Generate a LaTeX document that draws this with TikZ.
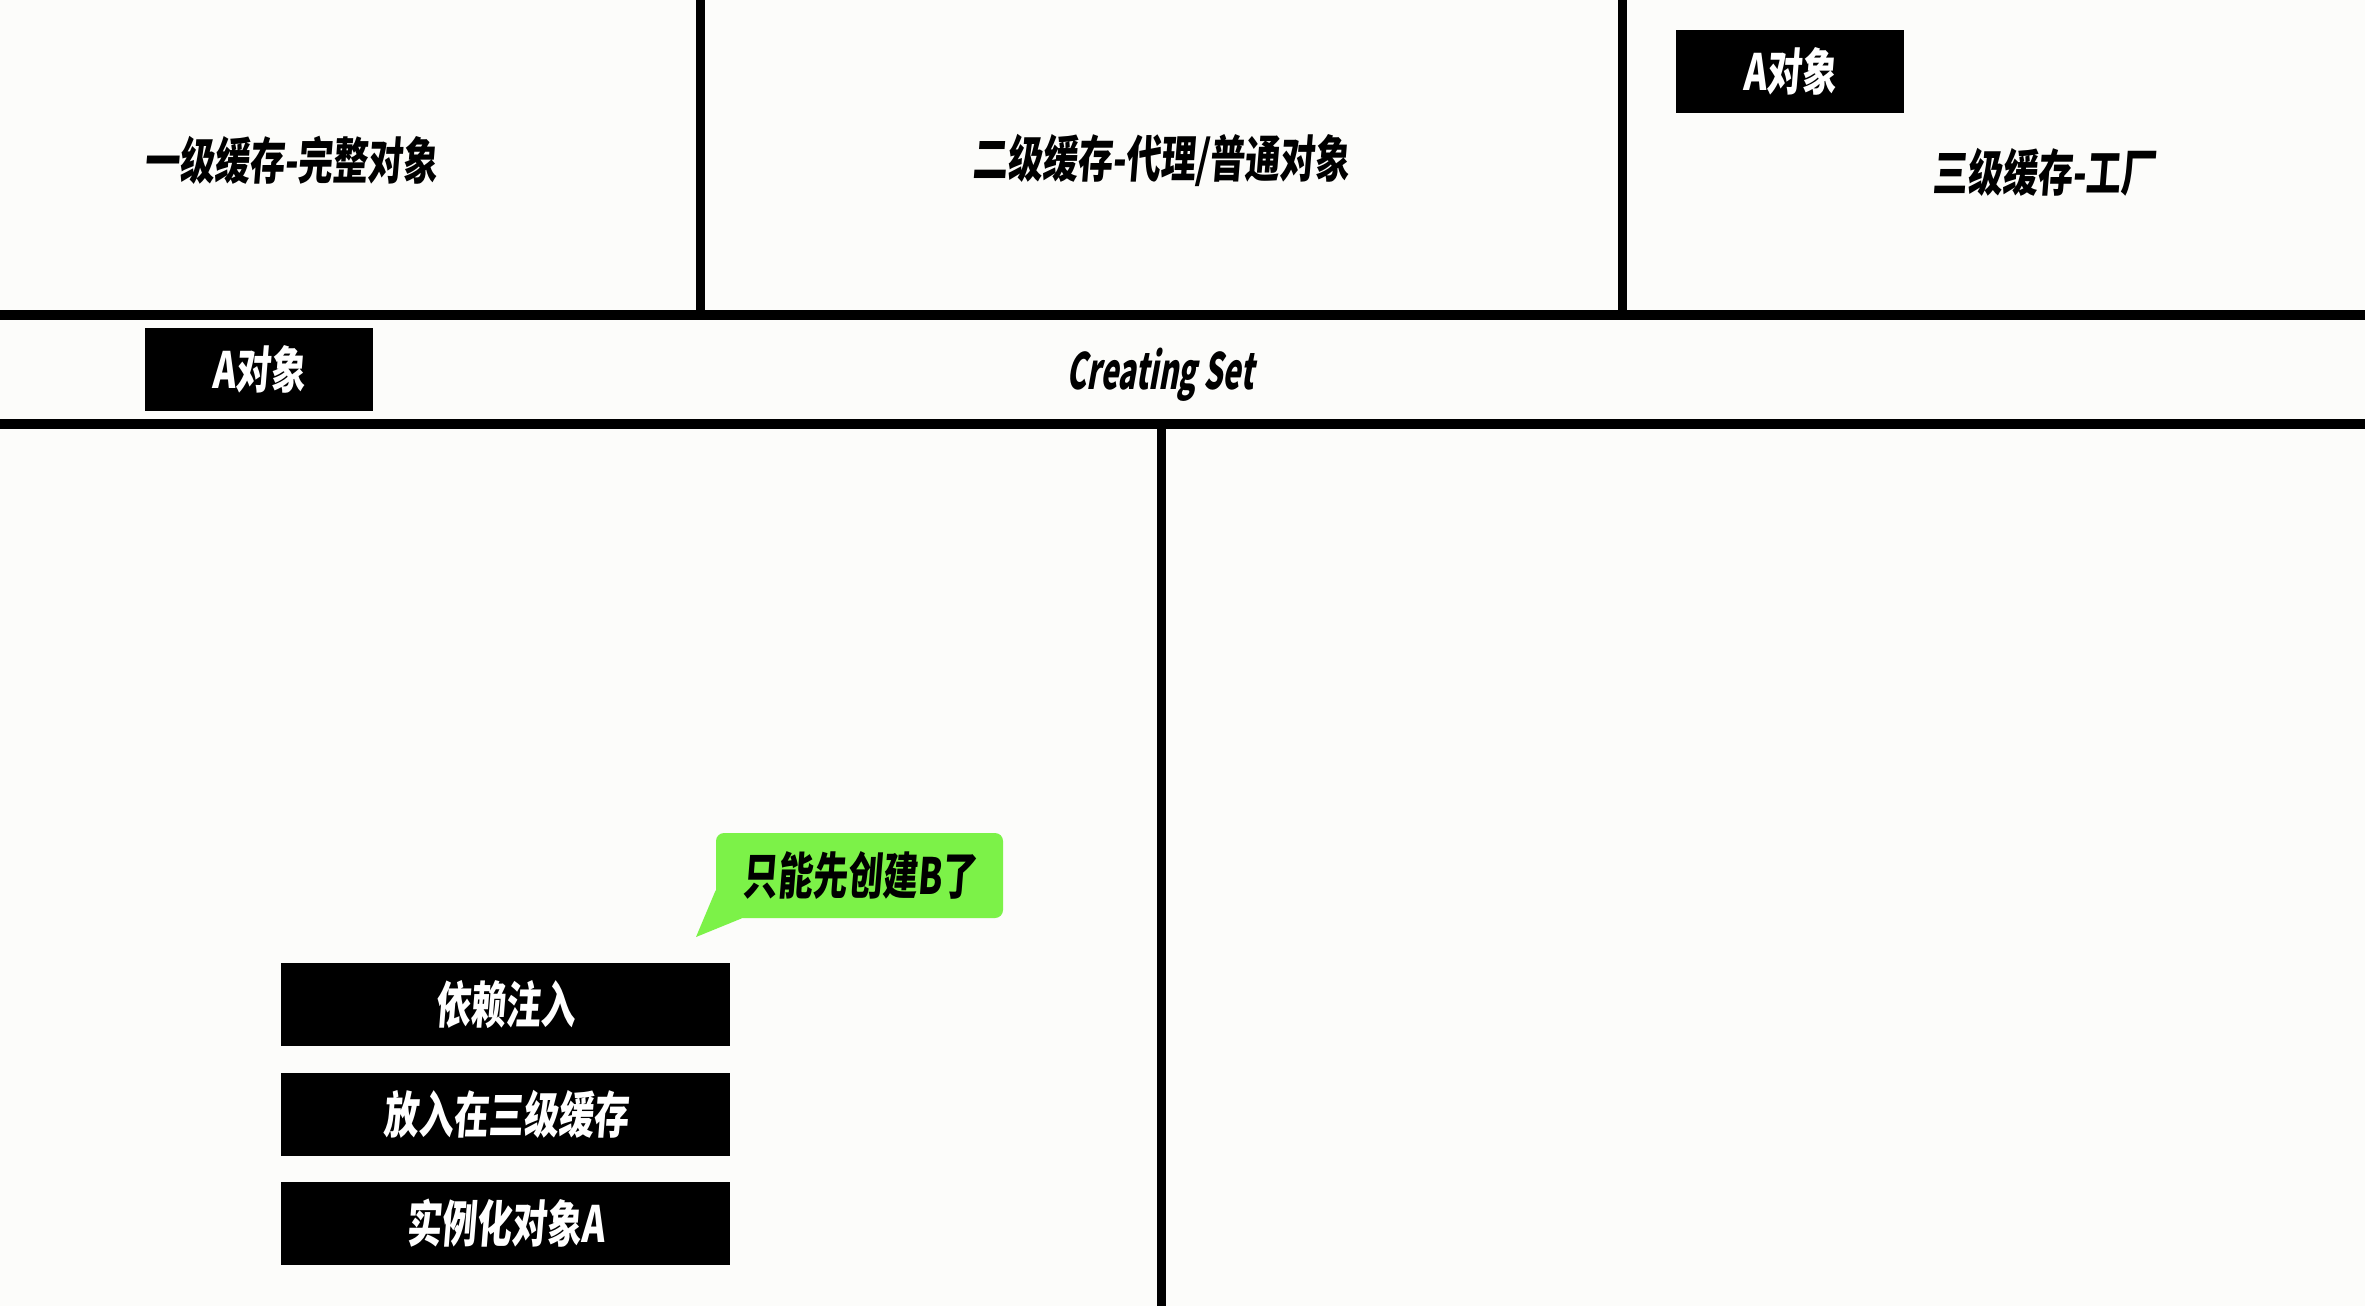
\documentclass[tikz,border=0pt]{standalone}
\usepackage{fontspec}
\newfontfamily\cjk[FakeStretch=0.7,FakeSlant=0.08]{Noto Sans CJK SC}
\newfontfamily\latn[FakeStretch=0.6,FakeSlant=0.18]{Noto Sans CJK SC}
\definecolor{bg}{RGB}{252,252,250}
\definecolor{bubblegreen}{RGB}{124,242,72}
\tikzset{
  sep/.style={line width=5pt, draw=black},
  vsep/.style={line width=4.5pt, draw=black},
  lbl/.style={font=\cjk\bfseries\fontsize{25}{27}\selectfont, text=black, inner sep=0pt},
  blackbox/.style={fill=black, text=white, font=\cjk\bfseries\fontsize{25}{27}\selectfont, inner sep=0pt, minimum height=41.5pt},
  smallbox/.style={blackbox, minimum width=114pt},
  widebox/.style={blackbox, minimum width=224.5pt},
  bubble/.style={fill=bubblegreen, rounded corners=4pt, font=\cjk\bfseries\fontsize{25}{27}\selectfont, text=black, inner sep=0pt, minimum width=143.5pt, minimum height=42.5pt}
}
\begin{document}
\begin{tikzpicture}[x=0.5pt,y=-0.5pt]
\fill[bg] (0,0) rectangle (2365,1306);
\useasboundingbox (0,0) rectangle (2365,1306);
% separators
\coordinate (h1l) at (0,315); \coordinate (h1r) at (2365,315);
\coordinate (h2l) at (0,424); \coordinate (h2r) at (2365,424);
\coordinate (v1t) at (700,0); \coordinate (v1b) at (700,315);
\coordinate (v2t) at (1622,0); \coordinate (v2b) at (1622,315);
\coordinate (v3t) at (1161,424); \coordinate (v3b) at (1161,1306);
\draw[vsep] (v1t) -- (v1b);
\draw[vsep] (v2t) -- (v2b);
\draw[vsep] (v3t) -- (v3b);
\draw[sep] (h1l) -- (h1r);
\draw[sep] (h2l) -- (h2r);
% labels
\node[lbl] (l1) at (291,160) {一级缓存-完整对象};
\node[lbl] (l2) at (1161,160) {二级缓存-代理/普通对象};
\node[lbl] (l3) at (2044,172) {三级缓存-工厂};
\node[lbl, font=\latn\bfseries\fontsize{25}{27}\selectfont] (cs) at (1160,375) {Creating Set};
% boxes
\node[smallbox] (a1) at (1790,71.5) {A对象};
\node[smallbox] (a2) at (259,369.5) {A对象};
\node[widebox] (s1) at (505.5,1004.5) {依赖注入};
\node[widebox] (s2) at (505.5,1114) {放入在三级缓存};
\node[widebox] (s3) at (505.5,1223.5) {实例化对象A};
% bubble
\node[bubble] (bub) at (859.5,875.5) {只能先创建B了};
\coordinate (tip) at (696,937);
\fill[bubblegreen] ([yshift=14pt]bub.south west) -- (tip) -- ([xshift=13pt]bub.south west) -- ([xshift=13pt,yshift=4pt]bub.south west) -- cycle;
\end{tikzpicture}
\end{document}
